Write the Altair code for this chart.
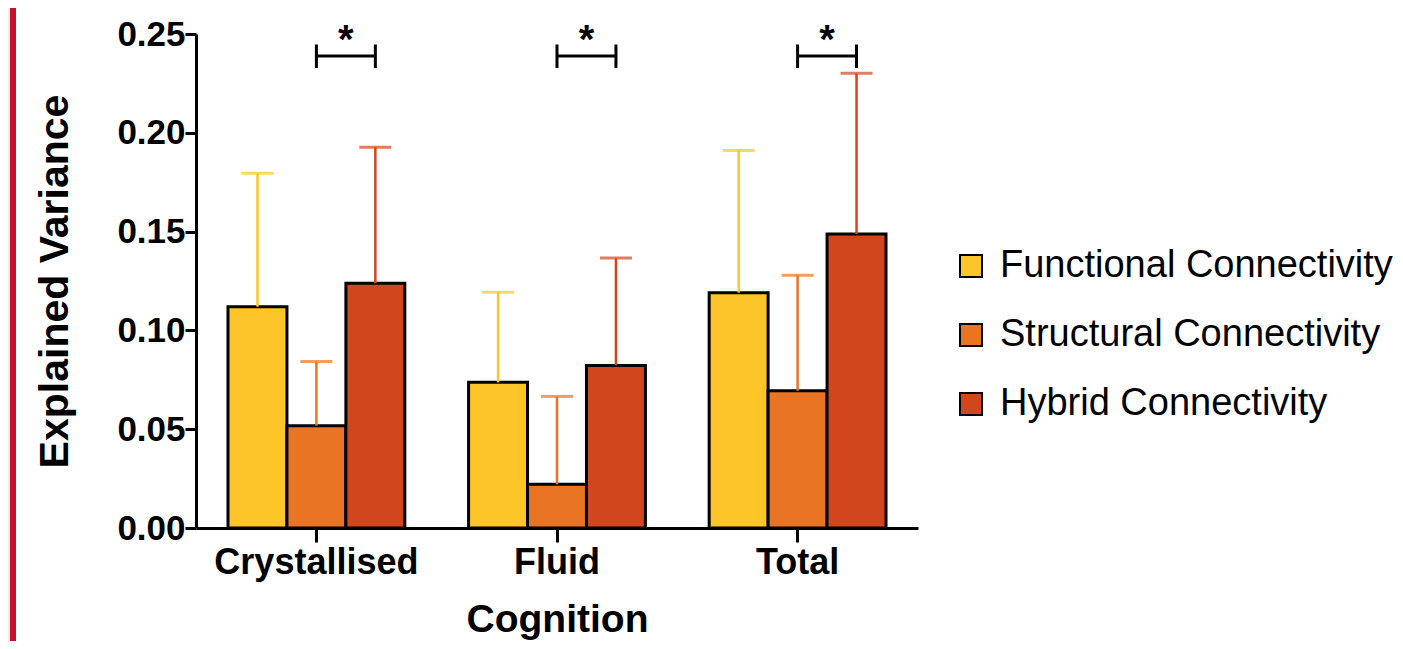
import altair as alt
import pandas as pd

# ---- data ----
groups = ["Crystallised", "Fluid", "Total"]
series = ["Functional Connectivity", "Structural Connectivity", "Hybrid Connectivity"]
functional_mean = [0.112, 0.0737, 0.1191]
functional_sd = [0.0675, 0.0456, 0.0719]
structural_mean = [0.0518, 0.0221, 0.0695]
structural_sd = [0.0324, 0.0445, 0.0584]
hybrid_mean = [0.1238, 0.0823, 0.1488]
hybrid_sd = [0.0689, 0.0543, 0.0813]
colors = ["#FDC528", "#E97524", "#D2461E"]
outline = ["black", "black", "black"]

# significance brackets (between structural and hybrid in every group)
sig_from = ["Structural Connectivity"] * 3
sig_to = ["Hybrid Connectivity"] * 3
sig_text = ["*", "*", "*"]
bracket_level = 0.2389
bracket_lo = 0.2328
bracket_hi = 0.2447
star_level = 0.2405

y_ticks = [0.0, 0.05, 0.10, 0.15, 0.20, 0.25]

FONT = "Liberation Sans"

rows = []
for s, means, sds in zip(series, [functional_mean, structural_mean, hybrid_mean],
                         [functional_sd, structural_sd, hybrid_sd]):
    for g, m, sd in zip(groups, means, sds):
        rows.append({"group": g, "series": s, "mean": m, "upper": m + sd})
df = pd.DataFrame(rows)

br_rows = []
for g, a, b in zip(groups, sig_from, sig_to):
    for s in (a, b):
        br_rows.append({"group": g, "series": s, "level": bracket_level,
                        "lo": bracket_lo, "hi": bracket_hi})
br = pd.DataFrame(br_rows)
stars = pd.DataFrame({"group": groups, "label": sig_text, "level": [star_level] * 3})

x_enc = alt.X(
    "group:N", sort=groups,
    scale=alt.Scale(paddingInner=0.265, paddingOuter=0.133),
    axis=alt.Axis(title="Cognition", labelAngle=0, labelFont=FONT, labelFontSize=36,
                  labelFontWeight="bold", labelColor="black", labelPadding=3,
                  labelLimit=400,
                  tickSize=14, tickWidth=3, tickColor="black",
                  domainColor="black", domainWidth=3,
                  titleFont=FONT, titleFontSize=39, titleFontWeight="bold",
                  titleColor="black", titlePadding=20),
)
xoff_enc = alt.XOffset("series:N", sort=series,
                       scale=alt.Scale(domain=series, paddingInner=0, paddingOuter=0))
color_scale = alt.Scale(domain=series, range=colors)

legend_def = alt.Legend(title=None, orient="none", legendX=756, legendY=213,
                        symbolType="square", symbolSize=484, symbolStrokeWidth=2,
                        labelFont=FONT, labelFontSize=38, labelColor="black",
                        labelOffset=10, rowPadding=31, padding=0, labelLimit=500)

bars = alt.Chart(df).mark_bar(strokeWidth=3).encode(
    x=x_enc,
    xOffset=xoff_enc,
    y=alt.Y("mean:Q", scale=alt.Scale(domain=[0, 0.25], nice=False, zero=True),
            axis=alt.Axis(title="Explained Variance", values=y_ticks, format=".2f",
                          labelFont=FONT, labelFontSize=35, labelFontWeight="bold",
                          labelColor="black", labelPadding=0, labelFlush=False,
                          labelOverlap=False,
                          tickSize=11, tickWidth=3, tickColor="black",
                          domainColor="black", domainWidth=3, grid=False,
                          titleFont=FONT, titleFontSize=41, titleFontWeight="bold",
                          titleColor="black", titlePadding=40)),
    fill=alt.Fill("series:N", sort=series, scale=color_scale, legend=legend_def),
    stroke=alt.Stroke("series:N", sort=series,
                      scale=alt.Scale(domain=series, range=outline), legend=legend_def),
)

err = alt.Chart(df).mark_rule(strokeWidth=2.5).encode(
    x=alt.X("group:N", sort=groups), xOffset=xoff_enc,
    y="mean:Q", y2="upper:Q",
    color=alt.Color("series:N", sort=series, scale=color_scale, legend=None),
)
caps = alt.Chart(df).mark_tick(thickness=3, size=32).encode(
    x=alt.X("group:N", sort=groups), xOffset=xoff_enc,
    y="upper:Q",
    color=alt.Color("series:N", sort=series, scale=color_scale, legend=None),
)

bracket_line = alt.Chart(br).mark_line(color="black", strokeWidth=3).encode(
    x=alt.X("group:N", sort=groups), xOffset=xoff_enc,
    y="level:Q", detail="group:N",
)
bracket_ends = alt.Chart(br).mark_rule(color="black", strokeWidth=3).encode(
    x=alt.X("group:N", sort=groups), xOffset=xoff_enc,
    y="lo:Q", y2="hi:Q",
)
star_text = alt.Chart(stars).mark_text(font=FONT, fontSize=40, fontWeight="bold",
                                       color="black", baseline="alphabetic").encode(
    x=alt.X("group:N", sort=groups, bandPosition=2 / 3),
    y="level:Q", text="label:N",
)

frame = alt.Chart(pd.DataFrame({"k": [0]})).mark_rect(color="#C8102E").encode(
    x=alt.value(-186), x2=alt.value(-180), y=alt.value(-34), y2=alt.value(620),
)
frame_bg = alt.Chart(pd.DataFrame({"k": [0]})).mark_rect(color="#F8ECEA").encode(
    x=alt.value(-196), x2=alt.value(-186), y=alt.value(-34), y2=alt.value(620),
)

chart = alt.layer(frame_bg, frame, bars, err, caps, bracket_line, bracket_ends, star_text).properties(
    width=722, height=494,
    background="white",
    autosize=alt.AutoSizeParams(type="none"),
    padding={"left": 188, "top": 26, "right": 477, "bottom": 113},
).configure_view(strokeWidth=0)

chart.save("out.html", embed_options={"renderer": "svg", "actions": False})
